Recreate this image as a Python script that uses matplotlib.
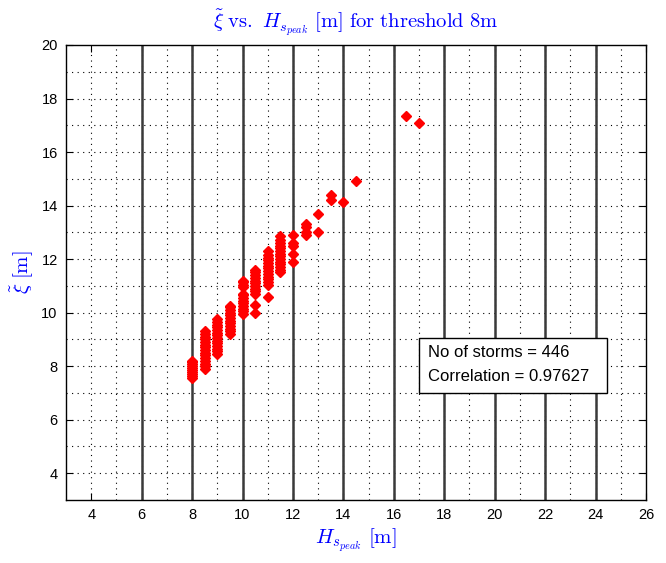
import matplotlib
matplotlib.use("Agg")
import matplotlib.pyplot as plt
from matplotlib.patches import Rectangle

plt.rcParams['font.family'] = ['Liberation Sans', 'DejaVu Sans']
plt.rcParams['mathtext.fontset'] = 'cm'

# Storm peak Hs column values and the xi-tilde values read per column
hs_8 = [7.55, 7.62, 7.7, 7.78, 7.85, 7.92, 8.0, 8.08, 8.15, 8.2]
hs_85 = [7.9, 8.0, 8.1, 8.2, 8.3, 8.4, 8.5, 8.6, 8.7, 8.8, 8.9, 9.0, 9.1, 9.2, 9.3]
hs_9 = [8.45, 8.55, 8.65, 8.75, 8.85, 8.95, 9.05, 9.15, 9.25, 9.35, 9.45, 9.55, 9.65, 9.75]
hs_95 = [9.2, 9.3, 9.4, 9.5, 9.6, 9.7, 9.8, 9.9, 10.0, 10.1, 10.2, 10.25]
hs_10 = [9.95, 10.05, 10.15, 10.25, 10.35, 10.45, 10.55, 10.65, 10.7, 10.95, 11.05, 11.15, 11.2]
hs_105 = [10.0, 10.3, 10.7, 10.8, 10.9, 11.0, 11.1, 11.2, 11.3, 11.4, 11.5, 11.6]
hs_11 = [10.6, 11.05, 11.15, 11.25, 11.35, 11.45, 11.55, 11.65, 11.75, 11.85, 11.95, 12.05, 12.15, 12.3]
hs_115 = [11.5, 11.6, 11.7, 11.8, 11.9, 12.0, 12.1, 12.2, 12.3, 12.4, 12.5, 12.6, 12.7, 12.85]
hs_12 = [11.9, 12.2, 12.5, 12.6, 12.9]
hs_125 = [12.9, 13.0, 13.2, 13.3]
hs_13 = [13.0, 13.7]
hs_135 = [14.2, 14.4]
hs_14 = [14.15]
hs_145 = [14.9]
hs_165 = [17.35]
hs_17 = [17.1]

columns = {8.0: hs_8, 8.5: hs_85, 9.0: hs_9, 9.5: hs_95, 10.0: hs_10, 10.5: hs_105,
           11.0: hs_11, 11.5: hs_115, 12.0: hs_12, 12.5: hs_125, 13.0: hs_13,
           13.5: hs_135, 14.0: hs_14, 14.5: hs_145, 16.5: hs_165, 17.0: hs_17}

solid_lines_x = [6, 8, 10, 12, 14, 16, 18, 20, 22, 24]
x_ticks = [4, 6, 8, 10, 12, 14, 16, 18, 20, 22, 24, 26]
y_ticks = [4, 6, 8, 10, 12, 14, 16, 18, 20]
grid_x = list(range(4, 26))
grid_y = list(range(4, 20))

n_storms = 446
correlation = 0.97627

fig = plt.figure(figsize=(6.66, 5.63), dpi=100)
ax = fig.add_axes([66/666, 1-500/563, (646-66)/666, (500-45)/563])

for gx in grid_x:
    ax.axvline(gx, color='black', lw=0.8, ls=(0, (1, 4)), zorder=1)
for gy in grid_y:
    ax.axhline(gy, color='black', lw=0.8, ls=(0, (1, 4)), zorder=1)
for sx in solid_lines_x:
    ax.axvline(sx, color='#3a3a3a', lw=1.8, zorder=2)

xs, ys = [], []
for hx, vals in columns.items():
    xs.extend([hx] * len(vals))
    ys.extend(vals)
ax.plot(xs, ys, ls='none', marker='D', ms=5, color='red', mec='red', zorder=3)

ax.set_xlim(3, 26)
ax.set_ylim(3, 20)
ax.set_xticks(x_ticks)
ax.set_yticks(y_ticks)
ax.tick_params(direction='in', length=5, width=0.8, labelsize=10.5, top=True, right=True,
               pad=6, colors='black')
for sp in ax.spines.values():
    sp.set_linewidth(1.0)
    sp.set_color('black')

ax.set_title(r'$\tilde{\xi}\ \mathrm{vs.}\ H_{s_{peak}}\ \mathrm{[m]\ for\ threshold\ 8m}$',
             color='blue', fontsize=14.8, pad=12)
ax.set_xlabel(r'$H_{s_{peak}}\ \mathrm{[m]}$', color='blue', fontsize=15, labelpad=3)
ax.set_ylabel(r'$\tilde{\xi}\ \mathrm{[m]}$', color='blue', fontsize=15, labelpad=4)

ax.add_patch(Rectangle((17.0, 7.01), 7.47, 2.06, fc='white', ec='black', lw=1.0, zorder=5))
ax.text(17.37, 8.52, f'No of storms = {n_storms}', fontsize=12, va='center', ha='left', zorder=6)
ax.text(17.37, 7.62, f'Correlation = {correlation}', fontsize=12, va='center', ha='left', zorder=6)

fig.savefig('out.png', dpi=100)
